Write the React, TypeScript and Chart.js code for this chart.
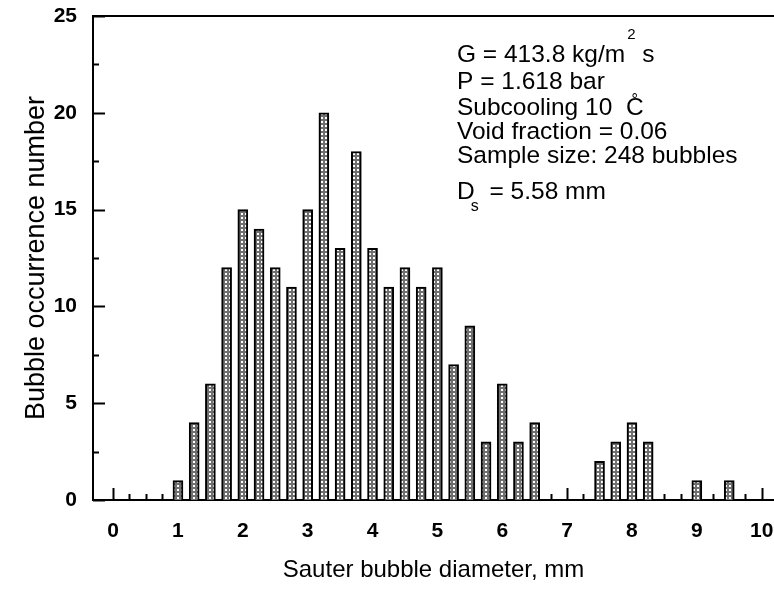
import { useEffect, useRef } from 'react';
import { Chart, registerables } from 'chart.js';

Chart.register(...registerables);

// ---- Data ----
const diameters = [1.0, 1.25, 1.5, 1.75, 2.0, 2.25, 2.5, 2.75, 3.0, 3.25, 3.5, 3.75, 4.0, 4.25, 4.5, 4.75, 5.0, 5.25, 5.5, 5.75, 6.0, 6.25, 6.5, 7.5, 7.75, 8.0, 8.25, 9.0, 9.5];
const counts = [1, 4, 6, 12, 15, 14, 12, 11, 15, 20, 13, 18, 13, 11, 12, 11, 12, 7, 9, 3, 6, 3, 4, 2, 3, 4, 3, 1, 1];
const xMajorTicks = [0, 1, 2, 3, 4, 5, 6, 7, 8, 9, 10];
const yMajorTicks = [0, 5, 10, 15, 20, 25];
const xTitle = 'Sauter bubble diameter, mm';
const yTitle = 'Bubble occurrence number';

const FONT = '"Liberation Sans", Arial, Helvetica, sans-serif';

function makePattern(): CanvasPattern | string {
  const c = document.createElement('canvas');
  c.width = 4;
  c.height = 4;
  const g = c.getContext('2d');
  if (!g) return '#aaa';
  g.fillStyle = '#707070';
  g.fillRect(0, 0, 4, 4);
  g.fillStyle = '#ffffff';
  g.fillRect(1, 1, 2, 2);
  const p = g.createPattern(c, 'repeat');
  return p || '#aaa';
}

const ticksPlugin = {
  id: 'inwardTicks',
  beforeDatasetsDraw(chart: any) {
    const { ctx, chartArea, scales } = chart;
    const x = scales.x;
    const y = scales.y;
    ctx.save();
    ctx.strokeStyle = '#000';
    ctx.lineWidth = 2;
    const bottom = chartArea.bottom;
    for (const m of xMajorTicks) {
      for (const f of [0, 0.25, 0.5, 0.75]) {
        const v = m + f;
        if (v > 10) continue;
        const px = Math.round(x.getPixelForValue(v)) + 0.5;
        const len = f === 0 ? 12 : 6;
        ctx.beginPath();
        ctx.moveTo(px, bottom);
        ctx.lineTo(px, bottom - len);
        ctx.stroke();
      }
    }
    const left = chartArea.left;
    for (const m of yMajorTicks) {
      for (const f of [0, 2.5]) {
        const v = m + f;
        if (v > 25) continue;
        const py = Math.round(y.getPixelForValue(v)) + 0.5;
        const len = f === 0 ? 12 : 6;
        ctx.beginPath();
        ctx.moveTo(left, py);
        ctx.lineTo(left + len, py);
        ctx.stroke();
      }
    }
    // top frame line
    ctx.beginPath();
    ctx.moveTo(chartArea.left, chartArea.top);
    ctx.lineTo(chartArea.right, chartArea.top);
    ctx.stroke();
    ctx.restore();
  },
};

const annotationPlugin = {
  id: 'annotText',
  afterDraw(chart: any) {
    const { ctx } = chart;
    ctx.save();
    ctx.fillStyle = '#000';
    ctx.textBaseline = 'alphabetic';
    ctx.textAlign = 'left';
    const big = `24.5px ${FONT}`;
    const small = `15px ${FONT}`;
    ctx.font = big;
    const x0 = 457;
    // Line 1: G = 413.8 kg/m^2 s
    let t = 'G = 413.8 kg/m';
    ctx.fillText(t, x0, 62);
    let w = ctx.measureText(t).width;
    ctx.font = small;
    ctx.fillText('2', x0 + w + 2, 39);
    const w2 = ctx.measureText('2').width;
    ctx.font = big;
    ctx.fillText(' s', x0 + w + w2 + 2, 62);
    // Line 2
    ctx.fillText('P = 1.618 bar', x0, 89);
    // Line 3
    t = 'Subcooling 10  ';
    ctx.fillText(t, x0, 115);
    w = ctx.measureText(t).width;
    ctx.fillText('C', x0 + w, 115);
    const wc = ctx.measureText('C').width;
    ctx.font = `16px ${FONT}`;
    ctx.textAlign = 'center';
    ctx.fillText('°', x0 + w + wc / 2, 105);
    ctx.textAlign = 'left';
    ctx.font = big;
    // Line 4
    ctx.fillText('Void fraction = 0.06', x0, 139);
    // Line 5
    ctx.fillText('Sample size: 248 bubbles', x0, 163);
    // Line 6: D_s = 5.58 mm
    ctx.fillText('D', x0, 199);
    w = ctx.measureText('D').width;
    ctx.font = `16px ${FONT}`;
    ctx.fillText('s', x0 + w - 4, 211);
    ctx.font = big;
    ctx.fillText(' = 5.58 mm', x0 + w + 8, 199);
    ctx.restore();
  },
};

export default function App() {
  const ref = useRef<HTMLCanvasElement | null>(null);

  useEffect(() => {
    if (!ref.current) return;
    const pattern = makePattern();
    const chart = new Chart(ref.current, {
      type: 'bar',
      data: {
        datasets: [
          {
            data: diameters.map((d, i) => ({ x: d, y: counts[i] })),
            backgroundColor: pattern as any,
            borderColor: '#000',
            borderWidth: 2,
            barThickness: 10,
          },
        ],
      },
      options: {
        animation: false,
        responsive: true,
        maintainAspectRatio: false,
        layout: { padding: { top: 16, left: 0, right: 0, bottom: 0 } },
        plugins: {
          legend: { display: false },
          tooltip: { enabled: false },
        },
        scales: {
          x: {
            type: 'linear',
            min: -0.31,
            max: 10.19,
            offset: false,
            grid: { display: false, drawTicks: false },
            border: { display: true, color: '#000', width: 2 },
            ticks: {
              stepSize: 1,
              includeBounds: false,
              autoSkip: false,
              maxRotation: 0,
              padding: 19,
              color: '#000',
              font: { family: FONT, size: 21, weight: 'bold' },
            },
            title: {
              display: true,
              text: xTitle,
              color: '#000',
              font: { family: FONT, size: 24 },
              padding: { top: 0, bottom: 4 },
            },
            afterFit(scale: any) {
              scale.height = 89;
              scale.paddingLeft = 0;
              scale.paddingRight = 0;
            },
          },
          y: {
            type: 'linear',
            min: 0,
            max: 25,
            grid: { display: false, drawTicks: false },
            border: { display: true, color: '#000', width: 2 },
            ticks: {
              stepSize: 5,
              padding: 16,
              color: '#000',
              font: { family: FONT, size: 21, weight: 'bold' },
            },
            title: {
              display: true,
              text: yTitle,
              color: '#000',
              font: { family: FONT, size: 27 },
              padding: { top: 20, bottom: 0 },
            },
            afterFit(scale: any) {
              scale.width = 93;
              scale.paddingTop = 0;
              scale.paddingBottom = 0;
            },
          },
        },
      },
      plugins: [ticksPlugin, annotationPlugin],
    });
    return () => chart.destroy();
  }, []);

  return (
    <div style={{ position: 'absolute', left: 0, top: 0, width: 774, height: 589, background: '#fff' }}>
      <canvas ref={ref} />
    </div>
  );
}
